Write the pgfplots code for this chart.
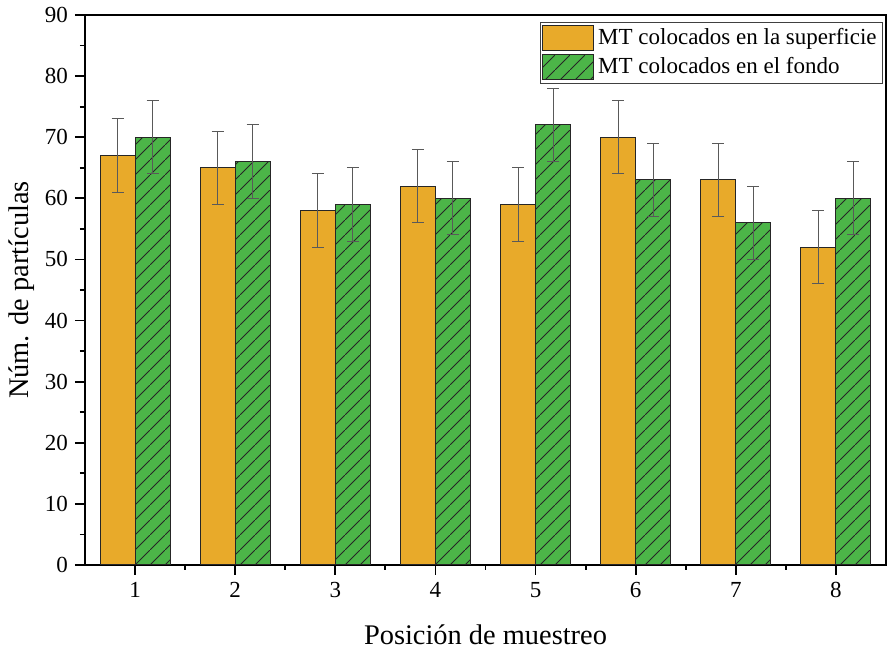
\documentclass[border=0pt]{standalone}
\usepackage{pgfplots}
\pgfplotsset{compat=1.18}
\usepackage{fontspec}
\setmainfont{Liberation Serif}
\usetikzlibrary{patterns.meta}
\definecolor{barorange}{RGB}{232,170,42}
\definecolor{bargreen}{RGB}{76,181,72}
\tikzdeclarepattern{
  name=hatchNE,
  type=uncolored,
  bounding box={(0,0) and (7.5pt,7.5pt)},
  tile size={(7.5pt,7.5pt)},
  code={\draw[line width=0.45pt] (-1pt,-1pt) -- (8.5pt,8.5pt);}
}
\begin{document}
\begin{tikzpicture}
\begin{axis}[
  name=ax,
  scale only axis,
  width=400.5pt, height=275pt,
  xmin=0.5, xmax=8.5, ymin=0, ymax=90,
  xtick={1,...,8}, ytick={0,10,...,90},
  minor x tick num=1, minor y tick num=1,
  tick align=outside,
  xtick pos=bottom, ytick pos=left,
  major tick length=5pt, minor tick length=2.5pt,
  every tick/.style={black, line width=0.9pt},
  axis line style={line width=1.1pt},
  /pgf/number format/assume math mode=true,
  tick label style={font=\fontsize{11.5}{13}\selectfont},
  label style={font=\fontsize{14.2}{16}\selectfont},
  xlabel={Posición de muestreo},
  ylabel={Núm. de partículas},
  x label style={at={(axis description cs:0.5,-0.127)}, anchor=center},
  y label style={at={(axis description cs:-0.0787,0.5)}, anchor=center},
  ybar, bar width=0.35,
  legend style={at={(rel axis cs:0.9963,0.987)}, anchor=north east,
    draw=black!75, line width=0.4pt, inner sep=1pt, row sep=1pt,
    font=\fontsize{11.5}{13}\selectfont, cells={anchor=west}},
  legend image code/.code={\draw[#1] (0pt,-6.25pt) rectangle (25.5pt,6.25pt);},
  error bars/error bar style={line width=0.5pt, black!65},
  error bars/error mark options={line width=0.5pt, black!65, mark size=3pt, rotate=90},
]
\addplot[bar shift=-0.175, fill=barorange, draw=black!85, line width=0.5pt,
  error bars/.cd, y dir=both, y explicit]
  coordinates {(1,67) +- (0,6) (2,65) +- (0,6) (3,58) +- (0,6) (4,62) +- (0,6)
               (5,59) +- (0,6) (6,70) +- (0,6) (7,63) +- (0,6) (8,52) +- (0,6)};
\addlegendentry{MT colocados en la superficie}
\addplot[bar shift=0.175, fill=bargreen, draw=black!85, line width=0.5pt,
  postaction={pattern=hatchNE, pattern color=black!85},
  error bars/.cd, y dir=both, y explicit]
  coordinates {(1,70) +- (0,6) (2,66) +- (0,6) (3,59) +- (0,6) (4,60) +- (0,6)
               (5,72) +- (0,6) (6,63) +- (0,6) (7,56) +- (0,6) (8,60) +- (0,6)};
\addlegendentry{MT colocados en el fondo}
\end{axis}
\path ([xshift=-42.5pt,yshift=-45pt]ax.south west) rectangle ([xshift=1pt,yshift=7.5pt]ax.north east);
\end{tikzpicture}
\end{document}
